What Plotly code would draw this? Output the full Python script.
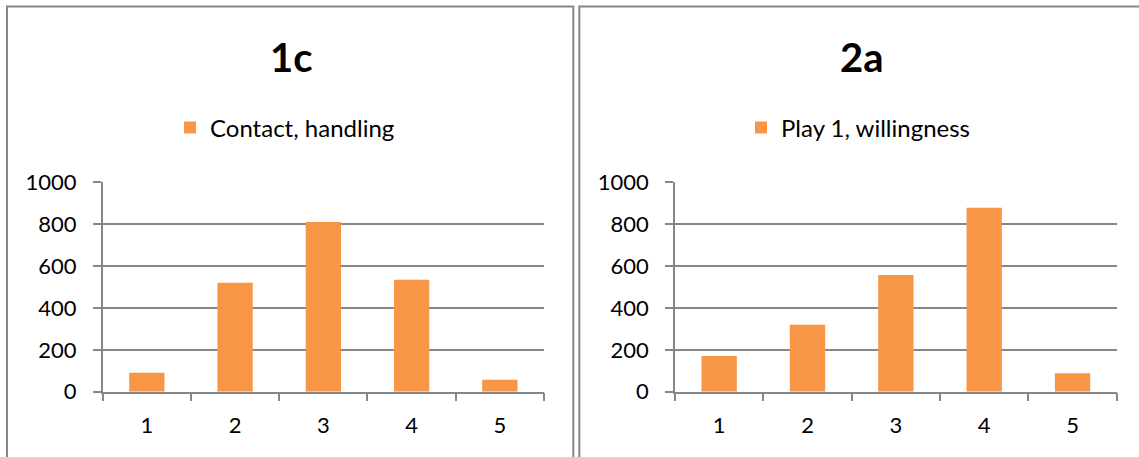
import plotly.graph_objects as go

W, H = 1139, 457

categories = ["1", "2", "3", "4", "5"]
contact_handling = [90, 520, 810, 535, 57]
play1_willingness = [170, 320, 557, 878, 88]

ORANGE = "#F79646"
GRAY = "#878787"
FONT = "Lato"


def px_x(x):
    return x / W


def px_y(y):
    return 1 - y / H


fig = go.Figure()

fig.add_trace(go.Bar(
    x=categories, y=contact_handling, name="Contact, handling",
    marker=dict(color=ORANGE, line=dict(width=0)),
    xaxis="x", yaxis="y", legend="legend", showlegend=True,
))
fig.add_trace(go.Bar(
    x=categories, y=play1_willingness, name="Play 1, willingness",
    marker=dict(color=ORANGE, line=dict(width=0)),
    xaxis="x2", yaxis="y2", legend="legend2", showlegend=True,
))

y_dom = [px_y(391.7), px_y(182.3)]

xaxis_common = dict(
    type="category", range=[-0.5, 4.5], tickson="boundaries",
    ticks="outside", ticklen=8, tickwidth=1.5, tickcolor=GRAY,
    showline=True, linecolor=GRAY, linewidth=1.5,
    showgrid=False, zeroline=False,
    tickfont=dict(family=FONT, size=22, color="#000000"),
    ticklabelstandoff=13, fixedrange=True, automargin=False,
)
yaxis_common = dict(
    range=[0, 1000], dtick=200, tick0=0,
    ticks="outside", ticklen=8, tickwidth=1.5, tickcolor=GRAY,
    showline=True, linecolor=GRAY, linewidth=1.5,
    showgrid=True, gridcolor=GRAY, gridwidth=1.5, zeroline=False,
    tickfont=dict(family=FONT, size=22, color="#000000"),
    ticklabelstandoff=12, fixedrange=True, domain=y_dom, automargin=False,
)

legend_common = dict(
    y=px_y(128), xanchor="left", yanchor="middle",
    orientation="h", font=dict(family=FONT, size=24, color="#000000"),
    bgcolor="rgba(0,0,0,0)",
)

fig.update_layout(
    width=W, height=H,
    margin=dict(l=0, r=0, t=0, b=0, pad=0, autoexpand=False),
    paper_bgcolor="white", plot_bgcolor="white",
    bargap=0.6,
    xaxis=dict(**xaxis_common, domain=[px_x(102.7), px_x(544)], anchor="y"),
    yaxis=dict(**yaxis_common, anchor="x"),
    xaxis2=dict(**xaxis_common, domain=[px_x(675), px_x(1116.7)], anchor="y2"),
    yaxis2=dict(**yaxis_common, anchor="x2"),
    legend=dict(**legend_common, x=px_x(170)),
    legend2=dict(**legend_common, x=px_x(741)),
    annotations=[
        dict(text="<b>1c</b>", x=px_x(291), y=px_y(57), xref="paper", yref="paper",
             xanchor="center", yanchor="middle", showarrow=False,
             font=dict(family=FONT, size=40, color="#000000")),
        dict(text="<b>2a</b>", x=px_x(862), y=px_y(57), xref="paper", yref="paper",
             xanchor="center", yanchor="middle", showarrow=False,
             font=dict(family=FONT, size=40, color="#000000")),
    ],
    shapes=[
        dict(type="rect", xref="paper", yref="paper",
             x0=px_x(7), x1=px_x(573.3), y0=px_y(470), y1=px_y(6.5),
             line=dict(color=GRAY, width=2), fillcolor="rgba(0,0,0,0)", layer="below"),
        dict(type="rect", xref="paper", yref="paper",
             x0=px_x(579.3), x1=px_x(1150), y0=px_y(470), y1=px_y(6.5),
             line=dict(color=GRAY, width=2), fillcolor="rgba(0,0,0,0)", layer="below"),
    ],
)

fig.write_html("out.html")
